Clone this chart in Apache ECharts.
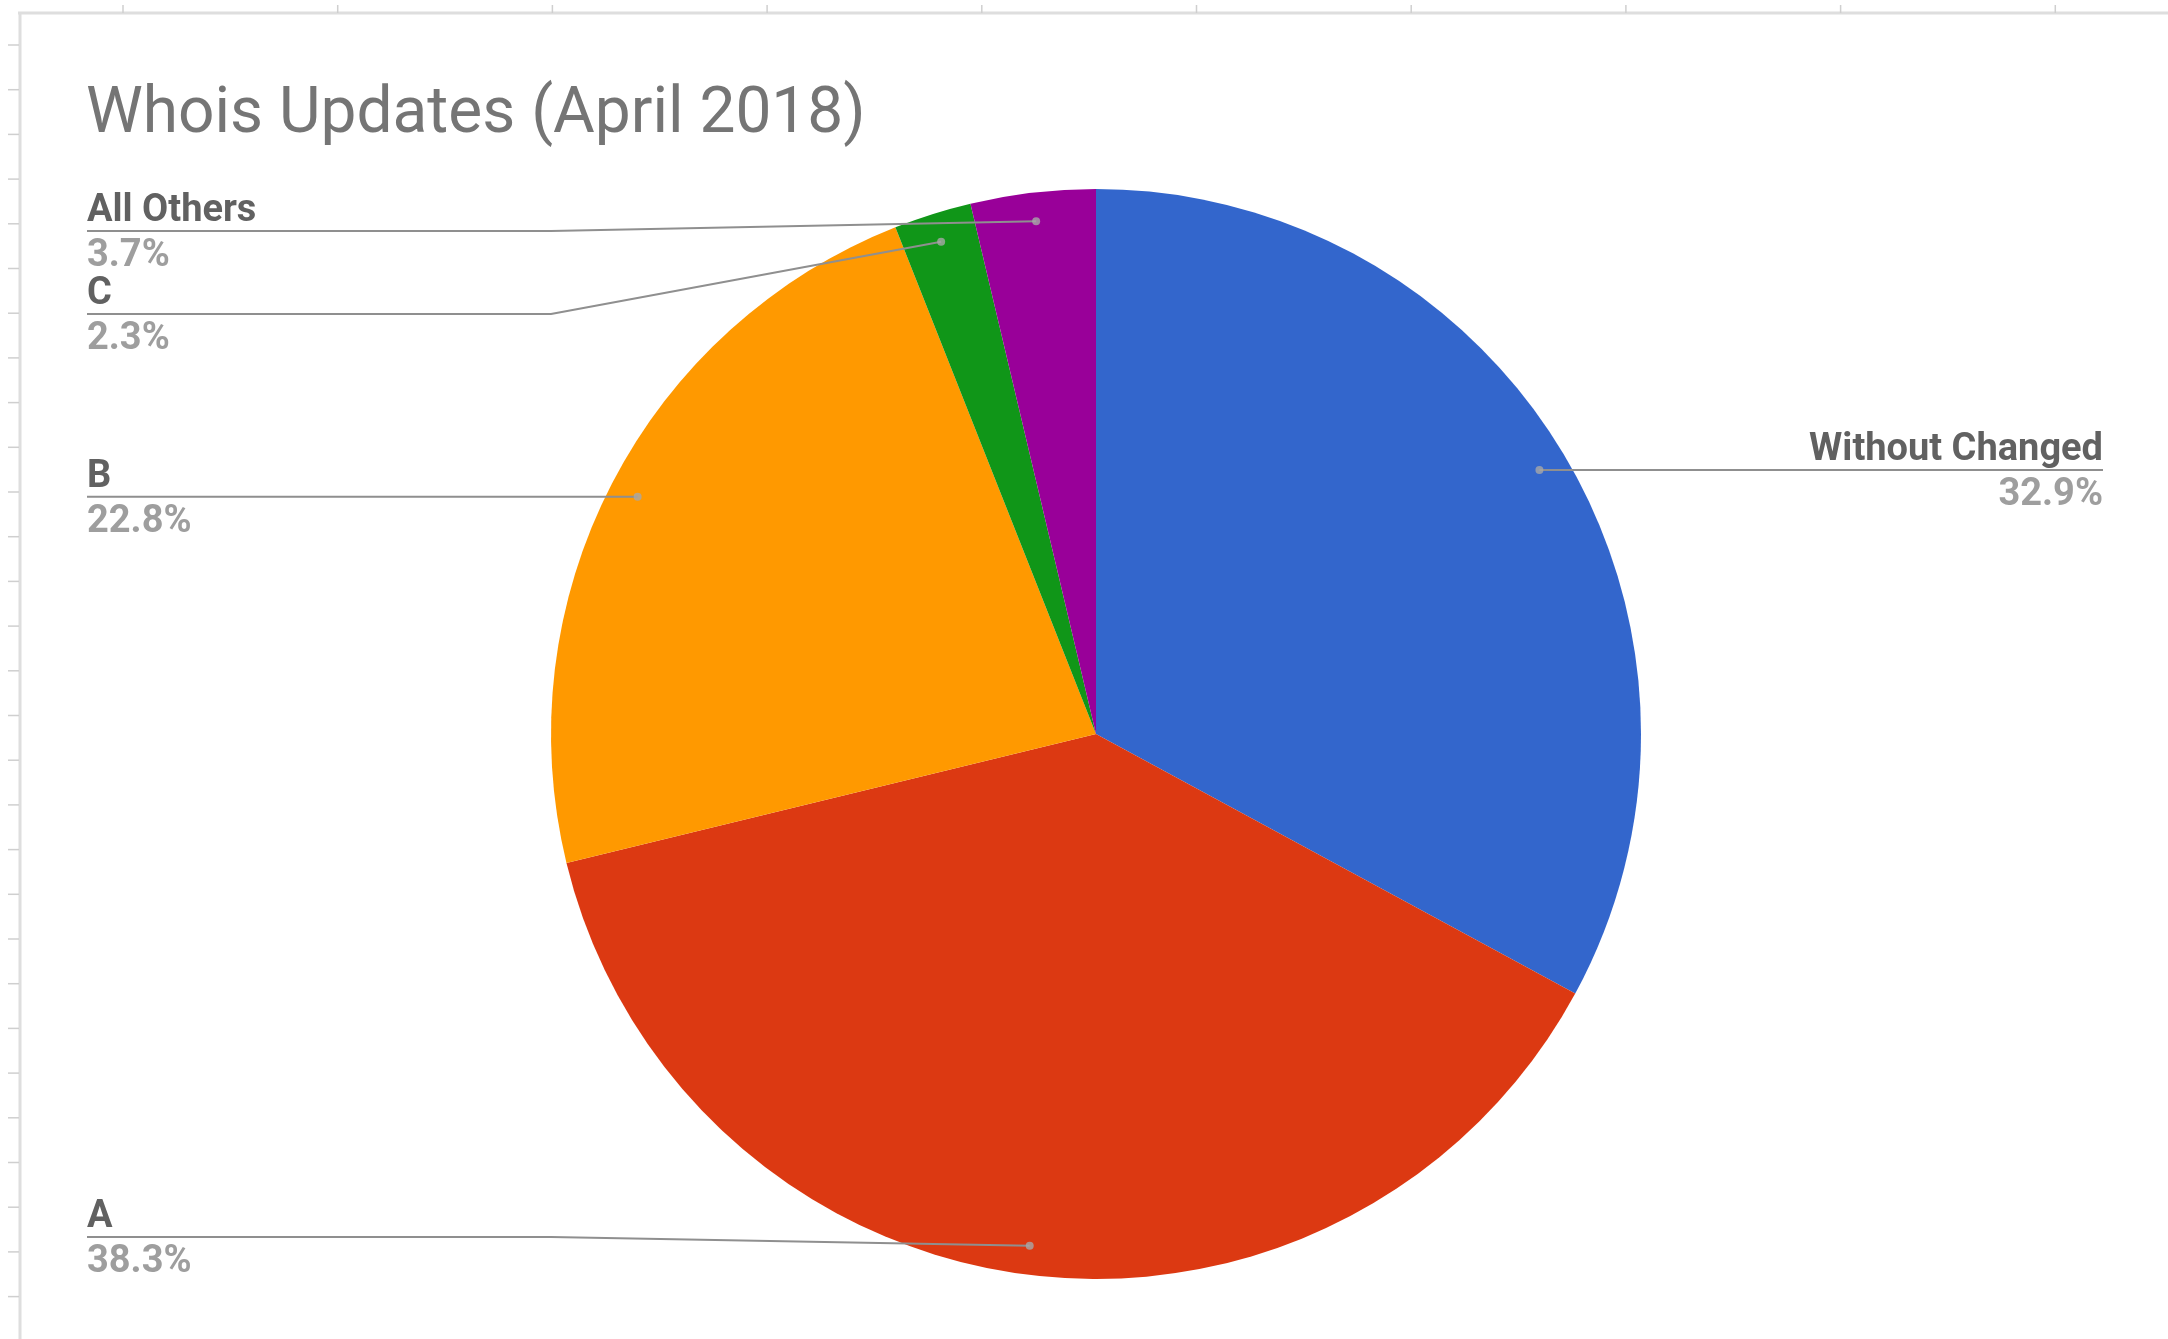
<!DOCTYPE html>
<html>
<head>
<meta charset="utf-8">
<script src="https://cdn.jsdelivr.net/npm/echarts@6/dist/echarts.min.js"></script>
<style>
html, body { margin: 0; padding: 0; background: #fff; }
#whois_pie { width: 2168px; height: 1339px; }
</style>
</head>
<body>
<div id="whois_pie"></div>
<script>
// slices, clockwise from 12 o'clock
var categories = ["Without Changed", "A", "B", "C", "All Others"];
var shares = [32.9, 38.3, 22.8, 2.3, 3.7];
var colors = ["#3366cc", "#dc3912", "#ff9900", "#109618", "#990099"];

var W = 2168, H = 1339;
var cx = 1096, cy = 734, R = 545;
var anchorR = 0.947;      // where the leader line starts, as a share of R
var leftX = 87, rightX = 2103;
var lineTop = 231, lineBottom = 1237, labelGap = 83;
var polarSpan = 3;        // polar grid reaches 3R so leader lines are not clipped

// anchor point of each slice (mid angle)
var total = shares.reduce(function (a, b) { return a + b; }, 0);
var mids = [];
var acc = 0;
shares.forEach(function (v) {
    mids.push((acc + v / 2) / total * 100);
    acc += v;
});
var anchors = mids.map(function (m) {
    var a = m / 100 * Math.PI * 2;
    return [cx + R * anchorR * Math.sin(a), cy - R * anchorR * Math.cos(a)];
});

// label line heights, google-sheets style: at anchor height, pushed apart
var lineY = [];
function placeSide(isLeft) {
    var idx = [];
    anchors.forEach(function (p, i) { if ((p[0] < cx) === isLeft) idx.push(i); });
    idx.sort(function (a, b) { return anchors[a][1] - anchors[b][1]; });
    var last = -1e9;
    idx.forEach(function (i) {
        var y = Math.min(Math.max(anchors[i][1], lineTop), lineBottom);
        if (y < last + labelGap) y = last + labelGap;
        lineY[i] = y;
        last = y;
    });
}
placeSide(true);
placeSide(false);

// screen point -> [radius in R, angle value] on the polar system of the pie
function toPolar(p) {
    var dx = p[0] - cx, dy = p[1] - cy;
    var a = Math.atan2(dx, -dy) / (Math.PI * 2) * 100;
    return [Math.sqrt(dx * dx + dy * dy) / R, (a + 100) % 100];
}

// leader lines: anchor -> pie edge height -> label edge
var leaderSeries = categories.map(function (c, i) {
    var isLeft = anchors[i][0] < cx;
    var edge = isLeft ? leftX : rightX;
    var pts = [anchors[i], [isLeft ? cx - R : cx + R, lineY[i]], [edge, lineY[i]]];
    return {
        name: "leader " + c,
        type: "line",
        coordinateSystem: "polar",
        data: pts.map(toPolar),
        symbol: "none",
        clip: false,
        silent: true,
        lineStyle: { color: "#8f8f8f", width: 2 },
        z: 4
    };
});

// spreadsheet frame behind the chart
var frame = [
    { type: "line", shape: { x1: 18, y1: 13, x2: W, y2: 13 }, style: { stroke: "#dedede", lineWidth: 3 }, silent: true },
    { type: "line", shape: { x1: 20, y1: 13, x2: 20, y2: H }, style: { stroke: "#dedede", lineWidth: 3 }, silent: true }
];
for (var tx = 123; tx < W; tx += 214.7) {
    frame.push({ type: "line", shape: { x1: tx, y1: 5, x2: tx, y2: 13 }, style: { stroke: "#cfcfcf", lineWidth: 1.5 }, silent: true });
}
for (var ty = 45; ty < H; ty += 44.7) {
    frame.push({ type: "line", shape: { x1: 8, y1: ty, x2: 19, y2: ty }, style: { stroke: "#cfcfcf", lineWidth: 1.5 }, silent: true });
}

var chart = echarts.init(document.getElementById("whois_pie"), null, { renderer: "canvas" });
chart.setOption({
    backgroundColor: "#ffffff",
    animation: false,
    title: {
        text: "Whois Updates (April 2018)",
        left: 81,
        top: 79,
        textStyle: {
            fontFamily: "Roboto",
            fontSize: 64,
            fontWeight: "normal",
            color: "#757575"
        }
    },
    graphic: frame,
    polar: { center: [cx, cy], radius: R * polarSpan },
    angleAxis: { type: "value", min: 0, max: 100, startAngle: 90, clockwise: true, show: false },
    radiusAxis: { type: "value", min: 0, max: polarSpan, show: false },
    series: [
        {
            name: "Whois Updates",
            type: "pie",
            center: [cx, cy],
            radius: R,
            startAngle: 90,
            clockwise: true,
            avoidLabelOverlap: false,
            data: categories.map(function (c, i) {
                return { name: c, value: shares[i], itemStyle: { color: colors[i] } };
            }),
            itemStyle: { borderWidth: 0 },
            emphasis: { disabled: true },
            label: {
                show: true,
                position: "outer",
                formatter: function (p) {
                    return "{n|" + p.name + "}\n{p|" + shares[p.dataIndex].toFixed(1) + "%}";
                },
                rich: {
                    n: { fontFamily: "Roboto", fontSize: 38, fontWeight: "bold", color: "#616161", lineHeight: 45 },
                    p: { fontFamily: "Roboto", fontSize: 38, fontWeight: "bold", color: "#9e9e9e", lineHeight: 45 }
                }
            },
            labelLine: { show: false },
            labelLayout: function (p) {
                var i = p.dataIndex;
                var isLeft = anchors[i][0] < cx;
                return {
                    x: isLeft ? leftX : rightX,
                    y: lineY[i] + 3,
                    align: isLeft ? "left" : "right",
                    verticalAlign: "middle"
                };
            },
            z: 2
        }
    ].concat(leaderSeries, [
        {
            name: "anchors",
            type: "scatter",
            coordinateSystem: "polar",
            symbol: "circle",
            symbolSize: 8,
            silent: true,
            itemStyle: { color: "#a8a8a8" },
            data: mids.map(function (m) { return [anchorR, m]; }),
            z: 5
        }
    ])
});
window.addEventListener("resize", function () {
    chart.resize();
});
</script>
</body>
</html>
